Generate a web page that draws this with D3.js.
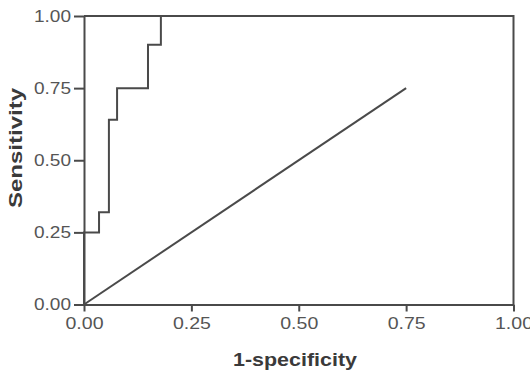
<!DOCTYPE html>
<html>
<head>
<meta charset="utf-8">
<script src="https://cdn.jsdelivr.net/npm/d3@7"></script>
<style>
  body { margin: 0; background: #fff; }
  text { font-family: "Liberation Sans", Arial, sans-serif; }
</style>
</head>
<body>
<div id="chart"></div>
<script>
// ROC curve points (1-specificity, sensitivity)
var fpr = [0, 0, 0.035, 0.035, 0.058, 0.058, 0.077, 0.077, 0.149, 0.149, 0.179, 0.179, 1];
var tpr = [0, 0.25, 0.25, 0.32, 0.32, 0.64, 0.64, 0.75, 0.75, 0.90, 0.90, 1, 1];
// reference line
var refX = [0, 0.75];
var refY = [0, 0.75];
var tickValues = [0, 0.25, 0.5, 0.75, 1];

var width = 530, height = 381;
var margin = {top: 16, right: 16.5, bottom: 76.5, left: 84};
var stroke = "#4a4a4a";

var svg = d3.select("#chart").append("svg")
            .attr("width", width)
            .attr("height", height);

var x = d3.scaleLinear().domain([0, 1]).range([margin.left, width - margin.right]);
var y = d3.scaleLinear().domain([0, 1]).range([height - margin.bottom, margin.top]);

var fmt = d3.format(".2f");

var xAxis = svg.append("g")
               .attr("transform", "translate(0," + y(0) + ")")
               .call(d3.axisBottom(x).tickValues(tickValues).tickFormat(fmt).tickSize(7).tickSizeOuter(0).tickPadding(5));
var yAxis = svg.append("g")
               .attr("transform", "translate(" + x(0) + ",0)")
               .call(d3.axisLeft(y).tickValues(tickValues).tickFormat(fmt).tickSize(10).tickSizeOuter(0).tickPadding(3));

[xAxis, yAxis].forEach(function(g) {
  g.select(".domain").attr("stroke", stroke).attr("stroke-width", 2);
  g.selectAll(".tick line").attr("stroke", stroke).attr("stroke-width", 2);
  g.selectAll(".tick text")
   .attr("fill", "#555")
   .style("font-size", "16px")
   .attr("textLength", 37)
   .attr("lengthAdjust", "spacingAndGlyphs");
});
xAxis.selectAll(".tick text").style("font-size", "17px").attr("textLength", 38);

// box top and right
svg.append("path")
   .attr("d", "M" + x(0) + "," + y(1) + "H" + x(1) + "V" + y(0))
   .attr("fill", "none")
   .attr("stroke", stroke)
   .attr("stroke-width", 2);

var line = d3.line()
             .x(function(d) { return x(d[0]); })
             .y(function(d) { return y(d[1]); });

svg.append("path")
   .datum(d3.zip(refX, refY))
   .attr("d", line)
   .attr("fill", "none")
   .attr("stroke", stroke)
   .attr("stroke-width", 2);

svg.append("path")
   .datum(d3.zip(fpr, tpr))
   .attr("d", line)
   .attr("fill", "none")
   .attr("stroke", stroke)
   .attr("stroke-width", 2);

// axis titles
svg.append("text")
   .attr("x", 295)
   .attr("y", 366)
   .attr("text-anchor", "middle")
   .attr("fill", "#3a3a3a")
   .style("font-size", "18px")
   .style("font-weight", "bold")
   .attr("textLength", 124)
   .attr("lengthAdjust", "spacingAndGlyphs")
   .text("1-specificity");

svg.append("text")
   .attr("transform", "translate(22,148) rotate(-90)")
   .attr("text-anchor", "middle")
   .attr("fill", "#3a3a3a")
   .style("font-size", "18px")
   .style("font-weight", "bold")
   .attr("textLength", 120)
   .attr("lengthAdjust", "spacingAndGlyphs")
   .text("Sensitivity");
</script>
</body>
</html>
